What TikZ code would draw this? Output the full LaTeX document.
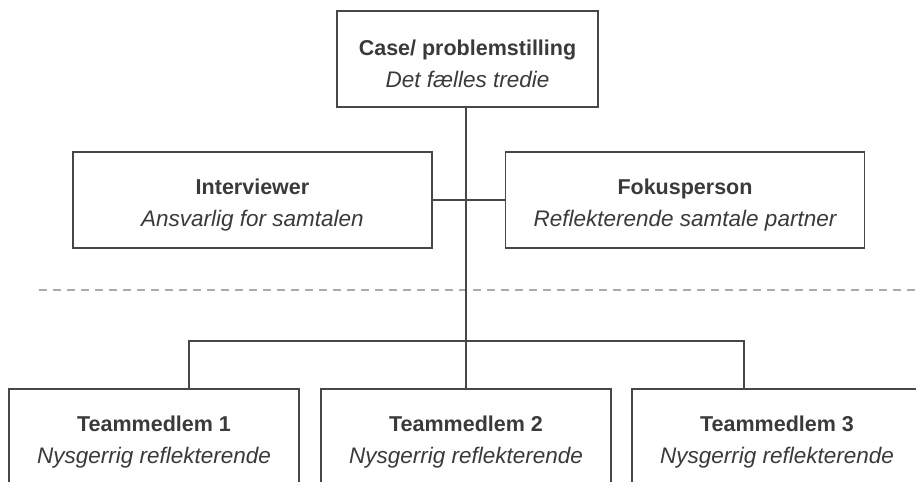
\documentclass[tikz,border=0pt]{standalone}
\usepackage{fontspec}
\setmainfont{Liberation Sans}
\definecolor{linegray}{HTML}{474747}
\definecolor{txtgray}{HTML}{3A3A3A}
\definecolor{dashgray}{HTML}{ABABAB}
\newcommand{\boxtext}[2]{\rule{0pt}{25pt}{\bfseries #1}\\{\fontsize{22.5}{32}\selectfont\itshape #2}}
\begin{document}
\begin{tikzpicture}[x=1pt,y=-1pt,
  box/.style={draw=linegray, line width=1.4pt, minimum height=96pt, inner sep=0pt, align=center, text=txtgray, font=\fontsize{21.5}{32}\selectfont},
  conn/.style={draw=linegray, line width=1.4pt},
  divider/.style={draw=dashgray, line width=2pt, dash pattern=on 8pt off 6pt}]
\useasboundingbox (0,0) rectangle (916,482);
\clip (0,0) rectangle (916,482);
\fill[white] (0,0) rectangle (916,482);
% boxes
\node[box, minimum width=261pt] (case) at (467.5,59) {\boxtext{Case/ problemstilling}{Det fælles tredie}};
\node[box, minimum width=359pt] (int) at (252.5,200) {\boxtext{Interviewer}{Ansvarlig for samtalen}};
\node[box, minimum width=359pt] (fok) at (685,200) {\boxtext{Fokusperson}{Reflekterende samtale partner}};
\node[box, minimum width=290pt] (t1) at (154,437) {\boxtext{Teammedlem 1}{Nysgerrig reflekterende}};
\node[box, minimum width=290pt] (t2) at (466,437) {\boxtext{Teammedlem 2}{Nysgerrig reflekterende}};
\node[box, minimum width=290pt] (t3) at (777,437) {\boxtext{Teammedlem 3}{Nysgerrig reflekterende}};
% divider
\coordinate (dl) at (39,290);
\coordinate (dr) at (920,290);
\draw[divider] (dl) -- (dr);
% connectors
\coordinate (d1) at (189,341);
\coordinate (d3) at (744,341);
\draw[conn] (case.south -| t2.north) -- (t2.north);
\draw[conn] (int.east) -- (fok.west);
\draw[conn] (d1 |- t1.north) -- (d1) -- (d3) -- (d3 |- t3.north);
\end{tikzpicture}
\end{document}
